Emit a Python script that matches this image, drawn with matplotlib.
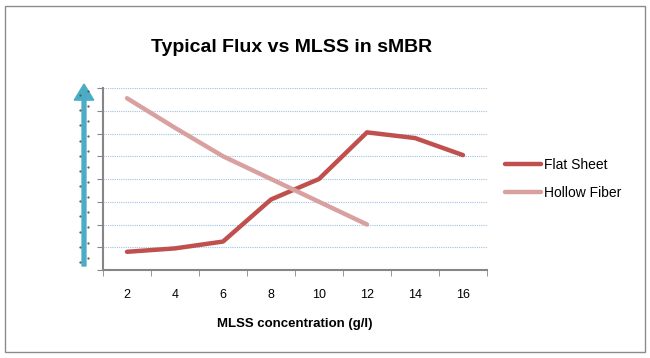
import numpy as np
import matplotlib
matplotlib.use("Agg")
import matplotlib.pyplot as plt
from matplotlib.patches import Rectangle, FancyArrow

mlss = ["2", "4", "6", "8", "10", "12", "14", "16"]
flat_sheet = [0.8, 0.95, 1.25, 3.1, 4.0, 6.05, 5.8, 5.05]
hollow_fiber = [7.55, 6.25, 5.0, 4.0, 3.0, 2.0, np.nan, np.nan]

plt.rcParams['font.family'] = ['Liberation Sans', 'DejaVu Sans']

fig = plt.figure(figsize=(6.5, 3.58), dpi=100)
ax = fig.add_axes([103 / 650, 1 - 270 / 358, 384 / 650, 182 / 358])

x = np.arange(len(mlss))
ax.plot(x, flat_sheet, color='#c0504d', lw=3.2, label='Flat Sheet', solid_capstyle='round')
ax.plot(x, hollow_fiber, color='#d9a0a0', lw=3.2, label='Hollow Fiber', solid_capstyle='round')

ax.set_xlim(-0.5, len(mlss) - 0.5)
ax.set_ylim(0, 8)
ax.set_xticks(x)
ax.set_xticklabels(mlss, fontsize=9)
ax.set_xticks(np.arange(-0.5, len(mlss)), minor=True)
ax.tick_params(axis='x', which='major', length=0, pad=14)
ax.tick_params(axis='x', which='minor', length=4, color='#868686', direction='out')
ax.set_yticks(np.arange(0, 9))
ax.set_yticklabels([])
ax.tick_params(axis='y', length=4, color='#868686', direction='out')
ax.grid(axis='y', color='#9dc3e6', linestyle=(0, (1, 1)), lw=0.8)
ax.set_axisbelow(True)
for s in ['top', 'right']:
    ax.spines[s].set_visible(False)
for s in ['left', 'bottom']:
    ax.spines[s].set_color('#868686')
    ax.spines[s].set_linewidth(1.5)

ax.set_xlabel('MLSS concentration (g/l)', fontsize=9.5, fontweight='bold', labelpad=12)

fig.text(292 / 650, 1 - 47 / 358, 'Typical Flux vs MLSS in sMBR', ha='center', va='center',
         fontsize=14, fontweight='bold')

ax.legend(loc='center left', bbox_to_anchor=(1.015, 0.5), frameon=False, fontsize=10,
          handlelength=2.6, labelspacing=1.05, handletextpad=0.2)

# blue arrow on the left
fig.add_artist(FancyArrow(84 / 650, 1 - 266 / 358, 0, 182 / 358, width=0.006,
                          head_width=0.03, head_length=0.045, length_includes_head=True,
                          color='#4bacc6', transform=fig.transFigure))
dy = np.linspace(1 - 262 / 358, 1 - 95 / 358, 12)
fig.add_artist(plt.Line2D(np.full(12, 80 / 650), dy, ls='none', marker='.', ms=1.2, color='#555555',
                          transform=fig.transFigure))
fig.add_artist(plt.Line2D(np.full(12, 88 / 650), dy + 0.012, ls='none', marker='.', ms=1.2, color='#555555',
                          transform=fig.transFigure))

fig.add_artist(Rectangle((5 / 650, 6 / 358), 640 / 650, 346 / 358, fill=False,
                         edgecolor='#8c8c8c', lw=1, transform=fig.transFigure))

fig.savefig('out.png', dpi=100)
